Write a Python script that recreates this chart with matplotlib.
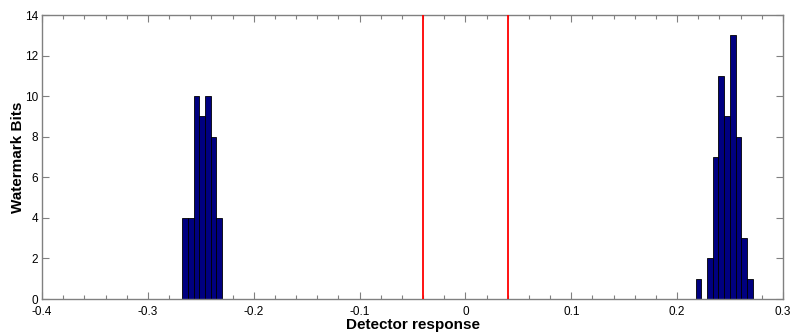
import numpy as np
import matplotlib
matplotlib.use("Agg")
import matplotlib.pyplot as plt
from matplotlib.ticker import MultipleLocator, FixedLocator

# Histogram data (MATLAB-style hist with 100 bins across the data range)
bin_lo = -0.2675
bin_hi = 0.2713
n_bins = 100
left_first_bin = 0
left_counts = [4, 4, 10, 9, 10, 8, 4]
right_first_bin = 90
right_counts = [1, 0, 2, 7, 11, 9, 13, 8, 3, 1]
thresholds = [-0.04, 0.04]
x_ticks = [-0.4, -0.3, -0.2, -0.1, 0, 0.1, 0.2, 0.3]
x_ticklabels = ['-0.4', '-0.3', '-0.2', '-0.1', '0', '0.1', '0.2', '0.3']
y_ticks = [0, 2, 4, 6, 8, 10, 12, 14]
xlabel = 'Detector response'
ylabel = 'Watermark Bits'

plt.rcParams['font.family'] = ['Liberation Sans', 'DejaVu Sans']

edges = np.linspace(bin_lo, bin_hi, n_bins + 1)
width = edges[1] - edges[0]
counts = np.zeros(n_bins)
counts[left_first_bin:left_first_bin + len(left_counts)] = left_counts
counts[right_first_bin:right_first_bin + len(right_counts)] = right_counts
mask = counts > 0

fig = plt.figure(figsize=(7.94, 3.33), dpi=100)
ax = fig.add_axes([42/794, 34/333, (783-42)/794, (299-15)/333])

ax.bar(edges[:-1][mask], counts[mask], width=width, align='edge',
       color='#000080', edgecolor='black', linewidth=0.6, zorder=2)
for t in thresholds:
    ax.axvline(t, color='red', linewidth=1.3, zorder=3)

ax.set_xlim(-0.4, 0.3)
ax.set_ylim(0, 14)
ax.xaxis.set_major_locator(FixedLocator(x_ticks))
ax.set_xticklabels(x_ticklabels)
ax.xaxis.set_minor_locator(MultipleLocator(0.02))
ax.yaxis.set_major_locator(FixedLocator(y_ticks))

gray = '#808080'
for s in ax.spines.values():
    s.set_color(gray)
    s.set_linewidth(1.0)
ax.tick_params(which='both', direction='in', top=True, right=True,
               color=gray, labelsize=8.5, labelcolor='black')
ax.tick_params(which='major', length=5, width=0.8)
ax.tick_params(axis='x', which='major', pad=5)
ax.tick_params(axis='y', which='major', pad=3)
ax.tick_params(which='minor', length=3, width=0.8)

ax.set_xlabel(xlabel, fontsize=11, fontweight='bold', labelpad=0)
ax.set_ylabel(ylabel, fontsize=11, fontweight='bold')
ax.yaxis.set_label_coords(-17/741, 0.5)

fig.savefig('out.png', dpi=100, facecolor='white')
